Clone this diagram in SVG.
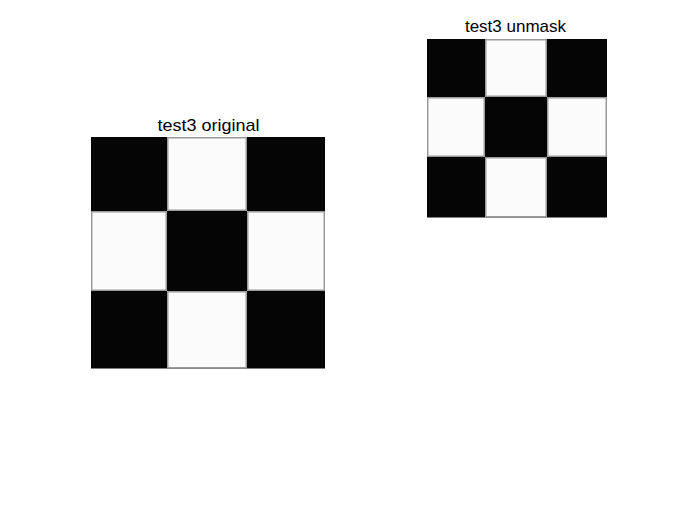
<svg xmlns="http://www.w3.org/2000/svg" width="700" height="525" viewBox="0 0 700 525">
<style>
.bg{fill:#ffffff}
.k{fill:#050505}
.w{fill:#fbfbfb;stroke:#9a9a9a;stroke-width:1.5}
.t{font-family:"Liberation Sans",Arial,sans-serif;font-size:17px;fill:#000;text-anchor:middle}
</style>
<rect class="bg" x="0" y="0" width="700" height="525"/>
<g id="original">
<text class="t" x="208.5" y="130.5" textLength="102" lengthAdjust="spacingAndGlyphs">test3 original</text>
<rect class="k" x="91" y="137" width="234" height="231.5"/>
<rect class="w" x="167.75" y="137.75" width="78.5" height="72.5"/>
<rect class="w" x="91.75" y="211.75" width="74.5" height="78.5"/>
<rect class="w" x="247.75" y="211.75" width="76.5" height="78.5"/>
<rect class="w" x="167.75" y="291.75" width="78.5" height="76"/>
</g>
<g id="unmask">
<text class="t" x="515.5" y="32.3">test3 unmask</text>
<rect class="k" x="427" y="39" width="180" height="178.5"/>
<rect class="w" x="485.75" y="39.75" width="60.5" height="56.5"/>
<rect class="w" x="427.75" y="97.75" width="56.5" height="58.5"/>
<rect class="w" x="547.75" y="97.75" width="58.5" height="58.5"/>
<rect class="w" x="485.75" y="157.75" width="60.5" height="59"/>
</g>
</svg>
